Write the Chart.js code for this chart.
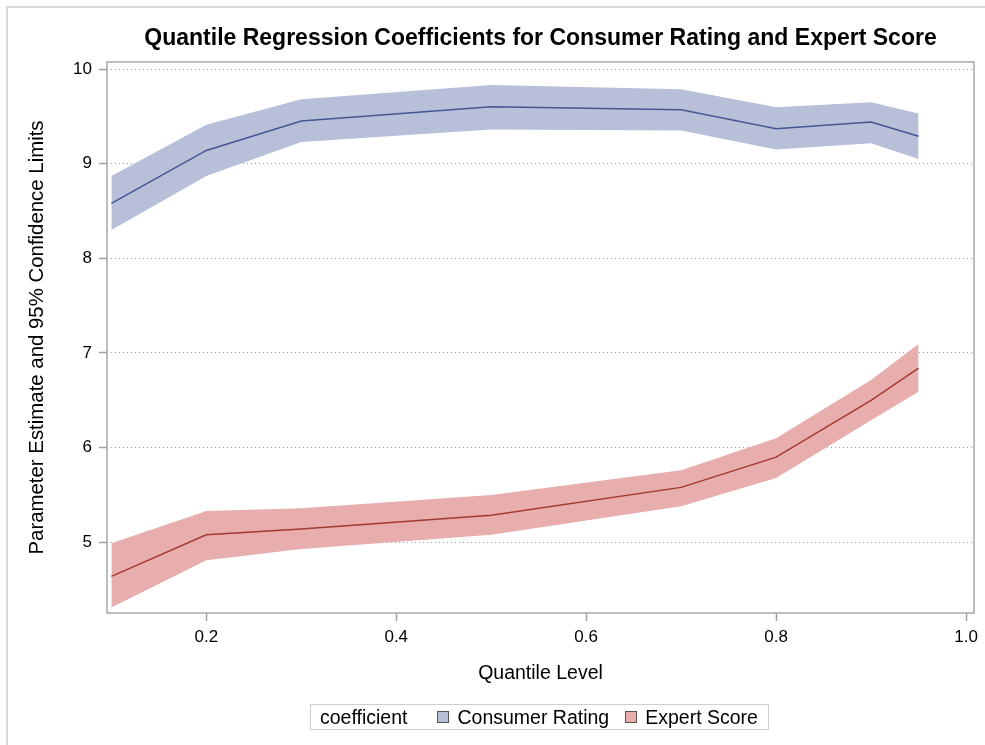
<!DOCTYPE html>
<html>
<head>
<meta charset="utf-8">
<script src="https://cdn.jsdelivr.net/npm/chart.js@4.4.1/dist/chart.umd.min.js"></script>
<style>
  html, body { margin: 0; padding: 0; background: #fff; }
  body { width: 985px; height: 745px; position: relative; overflow: hidden; font-family: "Liberation Sans", Arial, sans-serif; }
  #frame { position: absolute; left: 6px; top: 6px; width: 1000px; height: 800px; border-left: 2px solid #d9d9d9; border-top: 2px solid #d9d9d9; box-sizing: border-box; pointer-events: none; }
  #wrap { position: absolute; left: 0; top: 0; width: 985px; height: 745px; }
  #legend { position: absolute; left: 310px; top: 704px; width: 459px; height: 26px; border: 1px solid #cfcfcf; box-sizing: border-box; display: flex; align-items: center; font-size: 19.5px; color: #000; white-space: nowrap; }
  #legend .ttl { margin-left: 9px; margin-right: 30px; }
  #legend .item { display: flex; align-items: center; margin-right: 16px; }
  #legend .sw { width: 10px; height: 10px; border: 1px solid #555; margin-right: 8px; }
</style>
</head>
<body>
<div id="wrap"><canvas id="c" width="985" height="745"></canvas></div>
<div id="frame"></div>
<div id="legend"></div>
<script>
// ---- data ----
const quantiles      = [0.1, 0.2, 0.3, 0.5, 0.7, 0.8, 0.9, 0.95];
const consumerEst    = [8.58, 9.14, 9.45, 9.60, 9.57, 9.37, 9.44, 9.29];
const consumerUpper  = [8.87, 9.41, 9.68, 9.83, 9.785, 9.595, 9.65, 9.53];
const consumerLower  = [8.30, 8.87, 9.23, 9.36, 9.35, 9.15, 9.215, 9.05];
const expertEst      = [4.64, 5.08, 5.14, 5.285, 5.58, 5.90, 6.50, 6.84];
const expertUpper    = [4.99, 5.33, 5.36, 5.50, 5.76, 6.10, 6.715, 7.095];
const expertLower    = [4.31, 4.81, 4.93, 5.08, 5.38, 5.68, 6.29, 6.59];
const seriesNames    = ["Consumer Rating", "Expert Score"];
const xTicks         = [0.2, 0.4, 0.6, 0.8, 1.0];
const yTicks         = [5, 6, 7, 8, 9, 10];
const titleText      = "Quantile Regression Coefficients for Consumer Rating and Expert Score";
const xTitle         = "Quantile Level";
const yTitle         = "Parameter Estimate and 95% Confidence Limits";
const legendTitle    = "coefficient";

const bandColors = ["#B7BFD9", "#E8ADAD"];
const lineColors = ["#445694", "#A23A2E"];

const pts = arr => arr.map((v, i) => ({x: quantiles[i], y: v}));

function bandSets(upper, lower, est, k) {
  return [
    {label: seriesNames[k] + " upper", data: pts(upper), order: 2, borderWidth: 0, pointRadius: 0, fill: '+1', backgroundColor: bandColors[k], borderColor: 'rgba(0,0,0,0)', tension: 0},
    {label: seriesNames[k] + " lower", data: pts(lower), order: 2, borderWidth: 0, pointRadius: 0, fill: false, borderColor: 'rgba(0,0,0,0)', tension: 0},
    {label: seriesNames[k], data: pts(est), order: 0, borderWidth: 1.5, pointRadius: 0, fill: false, borderColor: lineColors[k], tension: 0}
  ];
}

const framePlugin = {
  id: 'frame',
  afterDraw(chart) {
    const {ctx, chartArea: a} = chart;
    ctx.save();
    ctx.strokeStyle = '#a8a8a8';
    ctx.lineWidth = 1.5;
    ctx.strokeRect(a.left, a.top, a.right - a.left, a.bottom - a.top);
    ctx.restore();
  }
};

const font = "'Liberation Sans', Arial, sans-serif";

new Chart(document.getElementById('c'), {
  type: 'line',
  data: { datasets: [...bandSets(consumerUpper, consumerLower, consumerEst, 0), ...bandSets(expertUpper, expertLower, expertEst, 1)] },
  plugins: [framePlugin],
  options: {
    responsive: false,
    animation: false,
    layout: { padding: { left: 0, right: 11, top: 0, bottom: 55 } },
    plugins: {
      legend: { display: false },
      tooltip: { enabled: false },
      title: {
        display: true, text: titleText, fullSize: false, color: '#000',
        font: { family: font, size: 23, weight: 'bold' },
        padding: { top: 25, bottom: 9.4 }
      }
    },
    scales: {
      x: {
        type: 'linear', min: 0.0954, max: 1.0084,
        afterBuildTicks: s => { s.ticks = xTicks.map(v => ({value: v})); },
        afterFit: s => { s.height = 77; },
        ticks: { color: '#000', font: { family: font, size: 17 }, padding: 6, callback: v => v.toFixed(1), maxRotation: 0 },
        grid: { drawOnChartArea: false, drawTicks: true, tickLength: 8, tickColor: '#a0a0a0', tickWidth: 1.5 },
        border: { display: false },
        title: { display: true, text: xTitle, color: '#000', font: { family: font, size: 19.5 }, padding: { top: 0, bottom: 4.3 } }
      },
      y: {
        type: 'linear', min: 4.253, max: 10.074,
        afterBuildTicks: s => { s.ticks = yTicks.map(v => ({value: v})); },
        afterFit: s => { s.width = 107; },
        ticks: { color: '#000', font: { family: font, size: 17 }, padding: 7, callback: v => String(v) },
        grid: { drawOnChartArea: true, drawTicks: true, tickLength: 8, color: '#a0a0a0', lineWidth: 1, tickColor: '#a0a0a0', tickWidth: 1.5, tickBorderDash: [8, 0] },
        border: { display: false, dash: [1, 3] },
        title: { display: true, text: yTitle, color: '#000', font: { family: font, size: 20.4 }, padding: { top: 25, bottom: 0 } }
      }
    }
  }
});

// HTML legend built from the series names
const lg = document.getElementById('legend');
const t = document.createElement('span'); t.className = 'ttl'; t.textContent = legendTitle; lg.appendChild(t);
seriesNames.forEach((n, k) => {
  const it = document.createElement('span'); it.className = 'item';
  const sw = document.createElement('span'); sw.className = 'sw'; sw.style.background = bandColors[k];
  const tx = document.createElement('span'); tx.textContent = n;
  it.appendChild(sw); it.appendChild(tx); lg.appendChild(it);
});
</script>
</body>
</html>
